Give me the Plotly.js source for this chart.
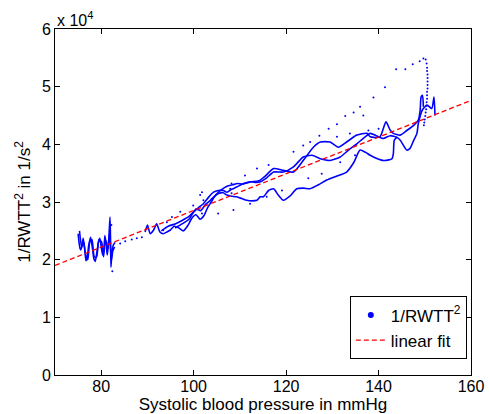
<!DOCTYPE html>
<html>
<head>
<meta charset="utf-8">
<script src="https://cdn.plot.ly/plotly-3.0.1.min.js"></script>
<style>html,body{margin:0;padding:0;background:#fff;}#chart{width:490px;height:414px;}</style>
</head>
<body>
<div id="chart"></div>
<script>
// Values of 1/RWTT^2 are in units of 10^4 1/s^2 (as the axis multiplier shows)
const sbpWiggleA = [75.0,75.2,75.4,75.6,75.85,76.1,76.4,76.7,77.0,77.3,77.7,78.1,78.4,78.7,79.1,79.4,79.7,80.0,80.3,80.6,80.8,81.1,81.3,81.6,81.9,82.0,82.1,82.3,82.6,83.0];
const rwttWiggleA = [2.45,2.30,2.20,2.17,2.25,2.37,2.20,1.98,2.05,2.25,2.39,2.20,2.02,1.97,2.15,2.30,2.37,2.22,2.08,2.20,2.42,2.25,2.08,2.30,2.74,2.40,1.87,2.10,2.25,2.30];

const sbpWiggleB = [75.3,75.5,75.8,76.2,76.6,77.1,77.5,78.0,78.5,79.0,79.5,80.1,80.5,80.9,81.4,81.8,82.2,82.5,82.9];
const rwttWiggleB = [2.50,2.35,2.22,2.30,2.10,2.00,2.30,2.35,2.05,2.05,2.35,2.30,2.05,2.35,2.20,2.45,2.00,2.15,2.22];

const sbpLower = [89.5,90.0,90.6,91.3,92.0,92.7,93.4,94.2,94.9,95.8,96.8,97.8,98.8,99.6,100.5,101.4,102.2,103.0,103.8,104.6,105.5,106.4,107.2,108.2,109.3,110.4,111.5,112.6,113.7,114.4,115.1,116.2,117.3,118.3,119.4,120.8,122.3,123.8,125.2,127.0,128.8,131.0,133.1,134.6,136.0,137.2,138.2,139.5,141.1,142.2,142.9,143.2,143.4,144.0];
const rwttLower = [2.48,2.60,2.45,2.51,2.62,2.48,2.45,2.48,2.51,2.58,2.55,2.50,2.60,2.72,2.78,2.70,2.76,2.90,3.00,3.10,3.15,3.16,3.12,3.10,3.09,3.06,3.03,3.02,3.03,3.09,3.09,3.20,3.23,3.12,3.03,3.10,3.23,3.24,3.23,3.30,3.38,3.45,3.52,3.68,3.90,3.86,3.81,3.76,3.72,3.73,3.75,3.84,4.07,4.13];

const sbpUpper1 = [93.0,94.5,96.0,97.5,99.0,100.0,101.0,102.1,103.2,104.3,105.3,106.4,107.2,108.2,109.3,110.8,112.2,113.7,114.4,115.5,117.3,119.4,121.6,123.7,125.9,127.4,129.5,131.3,133.1,135.3,137.5,138.2,140.3,141.6,142.5,143.2,144.7,146.1,147.6,148.6,149.0,149.2,149.5,149.7];
const rwttUpper1 = [2.50,2.58,2.62,2.68,2.75,2.83,2.90,2.97,3.08,3.17,3.20,3.20,3.17,3.22,3.26,3.32,3.35,3.36,3.38,3.45,3.58,3.55,3.52,3.72,3.95,4.04,4.04,3.95,4.04,4.16,4.19,4.13,4.13,4.39,4.25,4.19,4.16,4.24,4.33,4.42,4.59,4.82,4.85,4.65];

const sbpUpper2 = [96.0,97.5,99.0,100.5,101.5,102.5,103.5,104.5,105.5,106.5,107.5,108.5,109.5,110.5,111.5,112.5,113.5,114.4,115.8,117.3,119.4,121.6,123.7,125.6,127.4,129.5,131.7,133.5,135.3,137.1,138.2,139.5,141.0,142.5,144.0,144.7,146.1,146.8,147.6,148.3,148.6,149.5,150.5,151.5,152.0,152.2];
const rwttUpper2 = [2.55,2.62,2.70,2.88,2.85,2.95,3.02,3.10,3.18,3.24,3.28,3.30,3.32,3.31,3.33,3.35,3.34,3.35,3.42,3.52,3.52,3.61,3.78,3.81,3.75,3.72,3.78,3.90,4.01,4.13,4.19,4.15,4.10,4.15,4.12,4.07,3.90,3.93,4.07,4.19,4.36,4.60,4.68,4.62,4.82,4.50];

const sbpLoop = [121.6,123.7,125.2,127.2,129.2,131.0,132.8,134.6,136.0,138.9,141.4,143.8,145.8,147.4,148.9,149.7,150.2,150.4,150.5,150.5,150.6,150.6,150.6,150.6,150.6,150.5,150.5,150.5,150.4,150.4,150.3,150.2,150.1,150.0,149.9,149.8];
const rwttLoop = [3.87,3.98,4.04,4.15,4.27,4.35,4.49,4.55,4.65,4.81,4.99,5.30,5.30,5.39,5.44,5.49,5.47,5.40,5.33,5.27,5.21,5.15,5.09,5.03,4.97,4.91,4.85,4.79,4.73,4.67,4.61,4.55,4.49,4.43,4.38,4.33];

const sbpScatter = [84.1,85.2,86.6,87.7,88.8,93.4,94.2,95.3,97.1,99.9,101.4,101.8,101.8,102.1,105.3,107.9,108.2,108.2,108.6,111.1,112.2,113.7,116.2,115.8,119.1,124.8,127.7,131.0,131.7,133.8,134.9,136.7,137.8,140.0,82.4,82.2];
const rwttScatter = [2.28,2.32,2.35,2.37,2.39,2.51,2.65,2.74,2.83,2.94,3.12,3.17,2.80,3.03,2.80,3.23,3.32,3.15,2.86,3.46,2.97,3.58,3.64,3.09,3.20,3.41,3.49,4.13,3.69,4.19,3.81,4.50,4.24,4.27,1.80,2.60];

// linear fit: y = slope*x + intercept (units of 10^4)
const fitCoef = [0.0318, -0.326];
const fitRange = [70, 160];

const blue = '#0000ff';
const strands = [[sbpWiggleA, rwttWiggleA],[sbpWiggleB, rwttWiggleB],[sbpLower, rwttLower],[sbpUpper1, rwttUpper1],[sbpUpper2, rwttUpper2]];
const traces = strands.map(s => ({
  x: s[0], y: s[1], type: 'scatter', mode: 'lines',
  line: {color: blue, width: 1.6, shape: 'spline', smoothing: 0.6}, showlegend: false, hoverinfo: 'skip'
}));
[[sbpLoop, rwttLoop],[sbpScatter, rwttScatter]].forEach(s => traces.push({
  x: s[0], y: s[1], type: 'scatter', mode: 'markers',
  marker: {color: blue, size: 2}, showlegend: false
}));
traces.push({x: [null], y: [null], type: 'scatter', mode: 'markers', name: '1/RWTT<sup>2</sup>',
  marker: {color: blue, size: 6}});
traces.push({
  x: fitRange, y: fitRange.map(v => fitCoef[0]*v + fitCoef[1]),
  type: 'scatter', mode: 'lines', name: 'linear fit',
  line: {color: '#ff0000', width: 1.3, dash: '5px,3px'}
});

const fam = 'Liberation Sans, Arial, sans-serif';
const tickFont = {family: fam, size: 16, color: '#000'};
const titleFont = {family: fam, size: 17, color: '#000'};
const layout = {
  width: 490, height: 414,
  margin: {l: 55, r: 19, t: 29, b: 39},
  paper_bgcolor: '#fff', plot_bgcolor: '#fff',
  font: tickFont,
  showlegend: true,
  legend: {x: 0.99, y: 0.045, xanchor: 'right', yanchor: 'bottom',
    bordercolor: '#000', borderwidth: 1, bgcolor: '#fff', font: titleFont, tracegroupgap: 0},
  xaxis: {range: [70, 160], tickvals: [80,100,120,140,160], ticks: 'inside', ticklen: 5,
    tickcolor: '#000', showline: true, linecolor: '#000', linewidth: 1, mirror: 'ticks',
    showgrid: false, zeroline: false, tickfont: tickFont, ticklabelstandoff: -3,
    title: {text: 'Systolic blood pressure in mmHg', font: titleFont, standoff: 0}},
  yaxis: {range: [0, 6], tickvals: [0,1,2,3,4,5,6], ticktext: ['0','1','2','3','4','5','6'],
    ticks: 'inside', ticklen: 5, tickcolor: '#000', showline: true, linecolor: '#000', linewidth: 1,
    mirror: 'ticks', showgrid: false, zeroline: false, tickfont: tickFont,
    title: {text: '1/RWTT<sup>2</sup> in 1/s<sup>2</sup>', font: titleFont, standoff: 6}},
  annotations: [{text: 'x 10<sup>4</sup>', xref: 'paper', yref: 'paper', x: 0, y: 1,
    xanchor: 'left', yanchor: 'bottom', showarrow: false, font: tickFont, yshift: -2}]
};
Plotly.newPlot('chart', traces, layout, {displayModeBar: false, staticPlot: true});
</script>
</body>
</html>
